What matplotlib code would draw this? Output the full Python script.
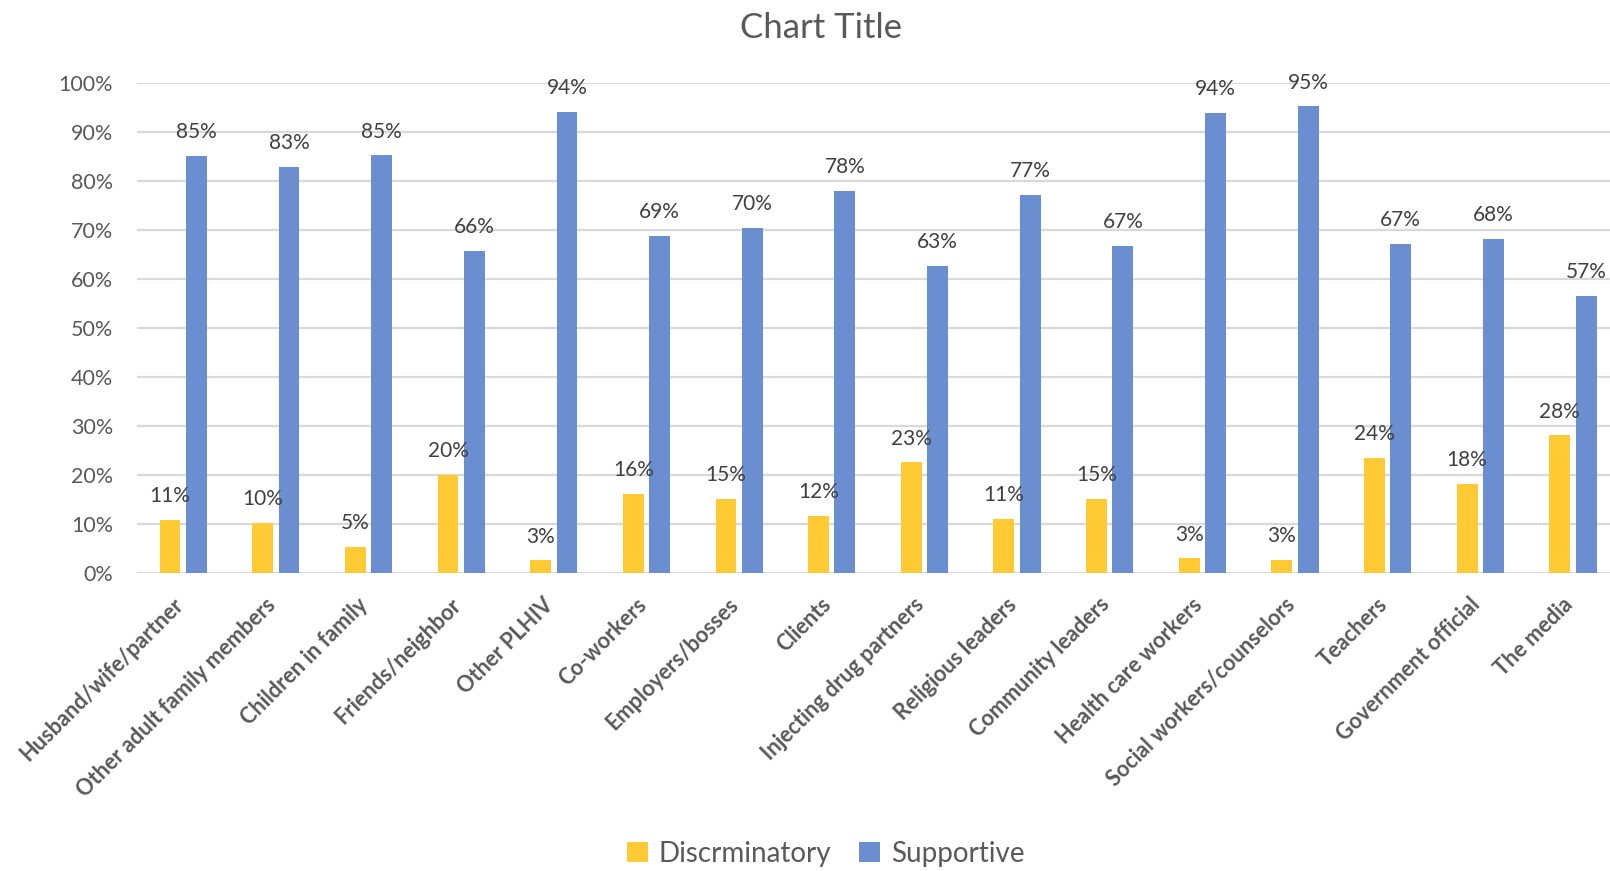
import numpy as np
import matplotlib
matplotlib.use("Agg")
import matplotlib.pyplot as plt
import matplotlib.transforms as mtransforms
from matplotlib.ticker import PercentFormatter

plt.rcParams["font.family"] = ["Lato", "DejaVu Sans"]

categories = ["Husband/wife/partner", "Other adult family members", "Children in family",
              "Friends/neighbor", "Other PLHIV", "Co-workers", "Employers/bosses", "Clients",
              "Injecting drug partners", "Religious leaders", "Community leaders",
              "Health care workers", "Social workers/counselors", "Teachers",
              "Government official", "The media"]
discriminatory = [10.8, 10.3, 5.3, 20.1, 2.6, 16.1, 15.2, 11.7, 22.6, 11.0, 15.1,
                  3.0, 2.7, 23.5, 18.2, 28.1]
supportive = [85.1, 82.8, 85.2, 65.7, 94.1, 68.8, 70.4, 77.9, 62.6, 77.1, 66.7,
              93.9, 95.2, 67.1, 68.2, 56.6]

gold = "#FFCA33"
blue = "#6A8ED0"
grey = "#595959"

fig = plt.figure(figsize=(16.1, 8.71), dpi=100)
ax = fig.add_axes([0.085, 0.342, 0.915, 0.563])

x = np.arange(len(categories))
w = 0.225
b1 = ax.bar(x - 0.142, discriminatory, w, color=gold, label="Discrminatory", zorder=3)
b2 = ax.bar(x + 0.142, supportive, w, color=blue, label="Supportive", zorder=3)

for bars, vals in ((b1, discriminatory), (b2, supportive)):
    for r, v in zip(bars, vals):
        ax.text(r.get_x() + r.get_width() / 2, v + 2.8, f"{v:.0f}%",
                ha="center", va="bottom", fontsize=15, color="#404040")

ax.set_ylim(0, 100)
ax.set_xlim(-0.5, 15.4)
ax.set_yticks(np.arange(0, 101, 10))
ax.yaxis.set_major_formatter(PercentFormatter(decimals=0))
ax.grid(axis="y", color="#D9D9D9", linewidth=1.6, zorder=0)
for s in ax.spines.values():
    s.set_visible(False)
ax.tick_params(length=0)
ax.tick_params(axis="y", labelsize=15.5, labelcolor=grey, pad=17)

ax.set_xticks(x)
ax.set_xticklabels(categories, rotation=45, ha="right", va="top",
                   rotation_mode="anchor", fontsize=15.6, fontweight="bold", color=grey)
ax.tick_params(axis="x", pad=15)
shift = mtransforms.ScaledTranslation(-0.11, 0, fig.dpi_scale_trans)
for lab in ax.get_xticklabels():
    lab.set_transform(lab.get_transform() + shift)

fig.text(0.51, 0.968, "Chart Title", ha="center", va="center", fontsize=25, color=grey)

fig.legend(handles=[b1, b2], loc="center", bbox_to_anchor=(0.513, 0.02), ncol=2,
           frameon=False, fontsize=20, labelcolor=grey, handlelength=0.75,
           handleheight=0.75, handletextpad=0.4, columnspacing=1.0)

fig.savefig("out.png", dpi=100)
